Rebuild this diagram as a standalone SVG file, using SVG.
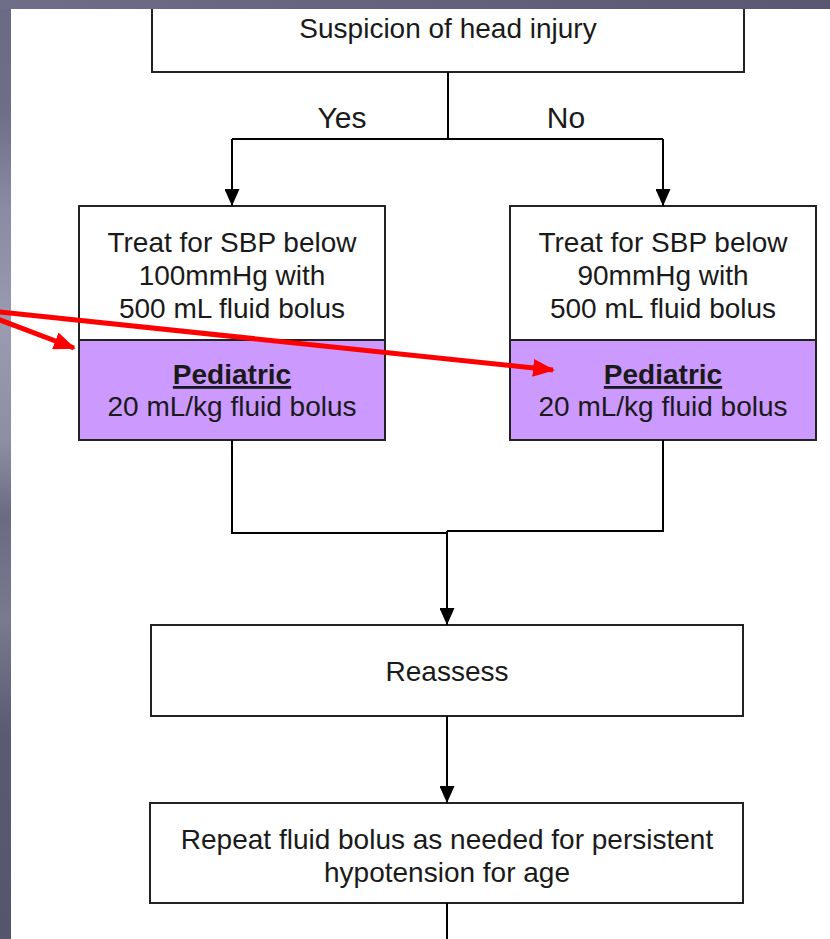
<svg xmlns="http://www.w3.org/2000/svg" width="830" height="939" viewBox="0 0 830 939">
  <style>
    .box { fill: #ffffff; stroke: #222222; stroke-width: 2; }
    .ped { fill: #cc99ff; stroke: #222222; stroke-width: 2; }
    .t { font-family: "Liberation Sans", Arial, sans-serif; font-size: 28px; fill: #1a1a1a; text-anchor: middle; }
    .lbl { font-family: "Liberation Sans", Arial, sans-serif; font-size: 30px; fill: #1a1a1a; text-anchor: middle; }
    .b { font-weight: bold; text-decoration: underline; }
    .wire { fill: none; stroke: #000000; stroke-width: 2; }
    .callout { fill: none; stroke: #ff0000; stroke-width: 5; }
  </style>
  <defs>
    <marker id="arrow" markerUnits="userSpaceOnUse" markerWidth="17" markerHeight="15" refX="17" refY="7.5" orient="auto">
      <path d="M0,0 L17,7.5 L0,15 z" fill="#000000"/>
    </marker>
    <marker id="redArrow" markerUnits="userSpaceOnUse" markerWidth="22" markerHeight="18" refX="20" refY="9" orient="auto">
      <path d="M0,0 L22,9 L0,18 z" fill="#ff0000"/>
    </marker>
    <linearGradient id="sideBand" x1="0" y1="0" x2="0" y2="1">
      <stop offset="0" stop-color="#6a6a84"/>
      <stop offset="0.12" stop-color="#6e6e88"/>
      <stop offset="0.22" stop-color="#8a8aa4"/>
      <stop offset="0.35" stop-color="#9a9ab0"/>
      <stop offset="0.47" stop-color="#8e8ea2"/>
      <stop offset="0.55" stop-color="#6a6a82"/>
      <stop offset="0.66" stop-color="#7a7a8e"/>
      <stop offset="0.78" stop-color="#5a5a72"/>
      <stop offset="1" stop-color="#55556c"/>
    </linearGradient>
    <linearGradient id="topBand" x1="0" y1="0" x2="1" y2="0">
      <stop offset="0" stop-color="#6e6e88"/>
      <stop offset="0.5" stop-color="#62627a"/>
      <stop offset="1" stop-color="#585870"/>
    </linearGradient>
  </defs>

  <!-- page -->
  <rect x="0" y="0" width="830" height="939" fill="#ffffff"/>

  <!-- nodes -->
  <g id="head-injury">
    <rect class="box" x="152" y="-10" width="592" height="82"/>
    <text class="t" x="448" y="38">Suspicion of head injury</text>
  </g>

  <g id="treat-100">
    <rect class="box" x="79" y="206" width="306" height="134"/>
    <rect class="ped" x="79" y="340" width="306" height="100"/>
    <text class="t" x="232" y="252">Treat for SBP below</text>
    <text class="t" x="232" y="285">100mmHg with</text>
    <text class="t" x="232" y="318">500 mL fluid bolus</text>
    <text class="t b" x="232" y="384">Pediatric</text>
    <text class="t" x="232" y="416">20 mL/kg fluid bolus</text>
  </g>

  <g id="treat-90">
    <rect class="box" x="510" y="206" width="306" height="134"/>
    <rect class="ped" x="510" y="340" width="306" height="100"/>
    <text class="t" x="663" y="252">Treat for SBP below</text>
    <text class="t" x="663" y="285">90mmHg with</text>
    <text class="t" x="663" y="318">500 mL fluid bolus</text>
    <text class="t b" x="663" y="384">Pediatric</text>
    <text class="t" x="663" y="416">20 mL/kg fluid bolus</text>
  </g>

  <g id="reassess">
    <rect class="box" x="151" y="625" width="592" height="91"/>
    <text class="t" x="447" y="681">Reassess</text>
  </g>

  <g id="repeat-bolus">
    <rect class="box" x="150" y="803" width="593" height="100"/>
    <text class="t" x="447" y="849">Repeat fluid bolus as needed for persistent</text>
    <text class="t" x="447" y="882">hypotension for age</text>
  </g>

  <!-- connectors -->
  <g id="connectors">
    <path class="wire" d="M448,72 V139"/>
    <path class="wire" d="M232,139 H663"/>
    <path class="wire" d="M232,139 V206" marker-end="url(#arrow)"/>
    <path class="wire" d="M663,139 V206" marker-end="url(#arrow)"/>
    <text class="lbl" x="342" y="128">Yes</text>
    <text class="lbl" x="566" y="128">No</text>
    <path class="wire" d="M232,440 V533 H447"/>
    <path class="wire" d="M663,440 V531 H447"/>
    <path class="wire" d="M447,531 V625" marker-end="url(#arrow)"/>
    <path class="wire" d="M447,716 V803" marker-end="url(#arrow)"/>
    <path class="wire" d="M447,903 V939"/>
  </g>

  <!-- frame bands -->
  <rect x="0" y="0" width="11" height="939" fill="url(#sideBand)"/>
  <rect x="0" y="0" width="830" height="9" fill="url(#topBand)"/>

  <!-- red callout arrows -->
  <g id="callouts">
    <path class="callout" d="M-29,309 L74,348" marker-end="url(#redArrow)"/>
    <path class="callout" d="M-29,309 L553,370" marker-end="url(#redArrow)"/>
  </g>
</svg>
